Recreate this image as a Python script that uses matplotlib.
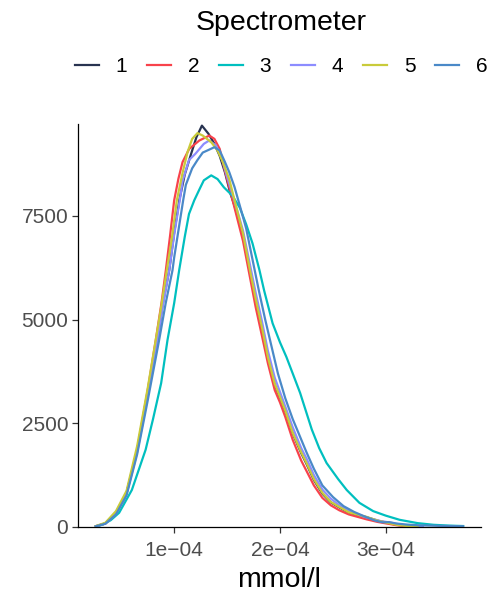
import numpy as np
import matplotlib
matplotlib.use("Agg")
import matplotlib.pyplot as plt
from matplotlib.lines import Line2D

plt.rcParams['font.family'] = ['Liberation Sans', 'DejaVu Sans']

# density curves (x in units of 1e-4 mmol/l)
x1 = [0.26, 0.35, 0.45, 0.55, 0.65, 0.75, 0.842, 0.89, 0.953, 1.0, 1.05, 1.1, 1.16, 1.21, 1.262,
      1.325, 1.38, 1.43, 1.48, 1.53, 1.57, 1.65, 1.71, 1.77, 1.83, 1.885, 1.95, 2.0, 2.05, 2.12,
      2.2, 2.25, 2.32, 2.40, 2.48, 2.56, 2.65, 2.82, 2.92, 3.01, 3.1, 3.2, 3.3]
y1 = [15, 85, 340, 820, 1850, 3250, 4510, 5350, 6190, 7100, 7900, 8500, 9000, 9400, 9680,
      9480, 9240, 8950, 8550, 8050, 7750, 7050, 6250, 5480, 4780, 4080, 3430, 3100, 2780, 2250,
      1780, 1520, 1130, 800, 590, 470, 340, 230, 150, 100, 50, 20, 5]

x2 = [0.26, 0.35, 0.45, 0.55, 0.65, 0.75, 0.826, 0.88, 0.921, 0.96, 1.0, 1.04, 1.079, 1.142,
      1.237, 1.332, 1.38, 1.43, 1.474, 1.52, 1.57, 1.65, 1.71, 1.77, 1.83, 1.885, 1.95, 2.0, 2.05,
      2.12, 2.2, 2.25, 2.32, 2.40, 2.48, 2.56, 2.65, 2.82, 2.92, 3.01, 3.1, 3.2, 3.3]
y2 = [15, 80, 330, 820, 1850, 3300, 4510, 5400, 6190, 7000, 7880, 8400, 8800, 9120,
      9320, 9440, 9360, 9120, 8640, 8200, 7700, 6900, 6100, 5300, 4600, 3950, 3300, 3000, 2650,
      2100, 1600, 1350, 1000, 700, 520, 400, 300, 180, 120, 80, 40, 15, 5]

x3 = [0.26, 0.32, 0.40, 0.48, 0.60, 0.73, 0.80, 0.877, 0.937, 1.0, 1.047, 1.10, 1.14, 1.19, 1.24,
      1.28, 1.35, 1.41, 1.47, 1.55, 1.62, 1.68, 1.74, 1.805, 1.85, 1.93, 2.0, 2.06, 2.12, 2.19,
      2.3, 2.37, 2.44, 2.55, 2.63, 2.75, 2.88, 3.0, 3.13, 3.3, 3.45, 3.6, 3.73]
y3 = [10, 50, 160, 340, 890, 1860, 2600, 3470, 4510, 5400, 6190, 7000, 7550, 7880, 8150,
      8360, 8480, 8390, 8190, 7990, 7700, 7300, 6840, 6200, 5700, 4910, 4450, 4100, 3700, 3230,
      2350, 1900, 1540, 1150, 890, 580, 380, 270, 170, 90, 50, 30, 20]

x4 = [0.26, 0.35, 0.45, 0.55, 0.65, 0.75, 0.842, 0.89, 0.953, 1.0, 1.057, 1.08, 1.14, 1.2, 1.28,
      1.33, 1.395, 1.45, 1.5, 1.56, 1.65, 1.71, 1.77, 1.83, 1.885, 1.95, 2.05, 2.12, 2.2, 2.25,
      2.32, 2.40, 2.48, 2.56, 2.65, 2.8, 2.95, 3.05, 3.15, 3.25, 3.35]
y4 = [15, 80, 320, 790, 1800, 3150, 4510, 5300, 6190, 7050, 7950, 8350, 8850, 9000, 9240,
      9320, 9200, 8900, 8450, 7950, 7150, 6400, 5650, 4950, 4250, 3600, 2900, 2400, 1900, 1650,
      1250, 900, 680, 520, 380, 240, 140, 100, 50, 20, 5]

x5 = [0.26, 0.35, 0.45, 0.55, 0.65, 0.75, 0.826, 0.88, 0.93, 0.98, 1.025, 1.08, 1.126, 1.17, 1.22,
      1.27, 1.35, 1.41, 1.46, 1.52, 1.57, 1.65, 1.71, 1.77, 1.83, 1.885, 1.95, 2.0, 2.05, 2.12,
      2.2, 2.25, 2.32, 2.40, 2.48, 2.56, 2.65, 2.82, 2.92, 3.01, 3.1, 3.2, 3.3]
y5 = [20, 100, 380, 870, 1950, 3350, 4510, 5350, 6190, 7000, 7880, 8550, 9040, 9360, 9500,
      9440, 9280, 9080, 8800, 8390, 7880, 7080, 6270, 5500, 4800, 4100, 3450, 3130, 2800, 2265,
      1800, 1540, 1150, 820, 600, 480, 350, 240, 150, 100, 50, 20, 5]

x6 = [0.26, 0.35, 0.45, 0.55, 0.65, 0.75, 0.858, 0.92, 0.984, 1.0, 1.085, 1.11, 1.17, 1.22, 1.27,
      1.33, 1.38, 1.43, 1.48, 1.52, 1.57, 1.62, 1.68, 1.74, 1.8, 1.86, 1.92, 1.98, 2.05, 2.12,
      2.19, 2.25, 2.32, 2.4, 2.5, 2.6, 2.7, 2.8, 2.9, 2.97, 3.03, 3.1, 3.2, 3.3, 3.5, 3.73]
y6 = [15, 75, 300, 760, 1750, 3050, 4510, 5400, 6190, 6500, 7880, 8250, 8650, 8850, 9030,
      9100, 9160, 9080, 8800, 8560, 8200, 7750, 7200, 6450, 5700, 5000, 4350, 3700, 3100, 2600,
      2170, 1800, 1400, 1000, 720, 500, 360, 250, 150, 110, 115, 80, 55, 40, 25, 15]

labels = ['1', '2', '3', '4', '5', '6']
colors = ['#283350', '#F8424B', '#00BFBF', '#8C8CFF', '#C9CB3A', '#4A89C8']
xs = [x1, x2, x3, x4, x5, x6]
ys = [y1, y2, y3, y4, y5, y6]

xticks = [1e-4, 2e-4, 3e-4]
xticklabels = ['1e\u221204', '2e\u221204', '3e\u221204']
yticks = [0, 2500, 5000, 7500]

fig = plt.figure(figsize=(4.96, 5.96), dpi=100)
ax = fig.add_axes([0.157, 0.116, 0.813, 0.676])

for x, y, c in zip(xs, ys, colors):
    ax.plot(np.array(x) * 1e-4, y, color=c, lw=1.6, solid_joinstyle='round')

ax.set_xlim(0.09e-4, 3.90e-4)
ax.set_ylim(0, 9720)
ax.set_xticks(xticks)
ax.set_xticklabels(xticklabels)
ax.set_yticks(yticks)
ax.set_yticklabels([str(v) for v in yticks])

for s in ['top', 'right']:
    ax.spines[s].set_visible(False)
for s in ['left', 'bottom']:
    ax.spines[s].set_linewidth(0.9)
    ax.spines[s].set_color('black')
ax.tick_params(direction='out', length=4, width=0.9, color='#333333',
               labelsize=15, labelcolor='#4D4D4D', pad=3)
ax.tick_params(axis='x', pad=6)
ax.set_xlabel('mmol/l', fontsize=20.5, labelpad=5)

handles = [Line2D([], [], color=c, lw=1.6) for c in colors]
leg = fig.legend(handles, labels, ncol=6, loc='upper center', bbox_to_anchor=(0.567, 1.007),
                 frameon=False, title='Spectrometer', fontsize=15, title_fontsize=20.5,
                 handlelength=1.15, handletextpad=0.8, columnspacing=0.95,
                 labelspacing=1.0, borderpad=0.2)

fig.savefig('out.png', dpi=100)
